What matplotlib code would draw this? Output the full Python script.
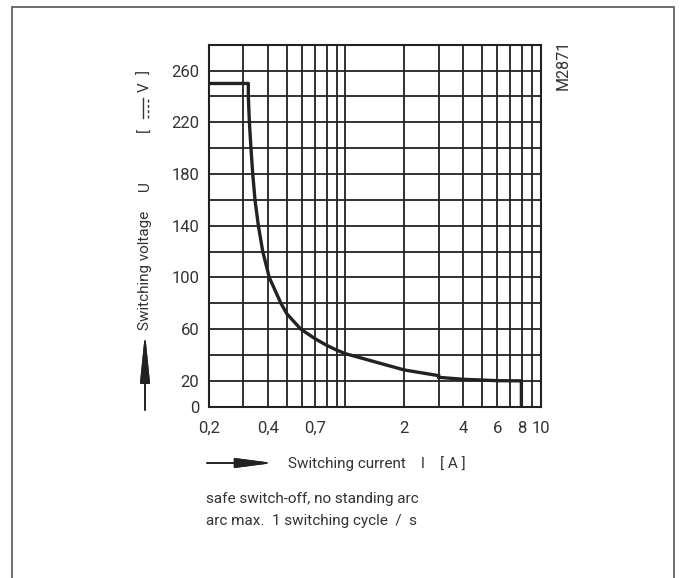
import numpy as np
import matplotlib.pyplot as plt
from matplotlib.patches import Rectangle
from matplotlib.lines import Line2D

plt.rcParams['font.family'] = ['Roboto', 'DejaVu Sans']

# curve (current in A, voltage in V)
cur_a = [0.2, 0.318, 0.318, 0.322, 0.328, 0.335, 0.344, 0.358, 0.377, 0.407, 0.467, 0.5,
         0.59, 0.7, 0.8, 0.9, 1.0, 2.0, 3.0]
volt_a = [250, 250, 240, 220, 200, 180, 160, 140, 120, 100, 80, 72,
          60, 52.5, 47.5, 43.8, 41, 28.4, 24]
cur_b = [3.0, 4.0, 6.0, 7.96, 7.96]
volt_b = [22.7, 21.2, 20.1, 20, 0]

xticks = [0.2, 0.4, 0.7, 2, 4, 6, 8, 10]
xticklabels = ['0,2', '0,4', '0,7', '2', '4', '6', '8', '10']
xgrid = [0.3, 0.4, 0.5, 0.6, 0.7, 0.8, 0.9, 1, 2, 3, 4, 5, 6, 7, 8, 9]
yticks = [0, 20, 60, 100, 140, 180, 220, 260]
ygrid = np.arange(20, 280, 20)

ink = '#222222'
txt = '#333333'
W, H = 683, 578


def fx(px):
    return px / W


def fy(py):
    return 1 - py / H


fig = plt.figure(figsize=(6.83, 5.78), dpi=100)
ax = fig.add_axes([0.306, 0.2964, 0.4857, 0.6263])
ax.set_xscale('log')
ax.set_xlim(0.2, 10)
ax.set_ylim(0, 280)

for x in xgrid:
    ax.axvline(x, color=ink, lw=1.3, zorder=1)
for y in ygrid:
    ax.axhline(y, color=ink, lw=1.3, zorder=1)

ax.plot(cur_a, volt_a, color=ink, lw=2.4, zorder=3, solid_joinstyle='round')
ax.plot(cur_b, volt_b, color=ink, lw=2.4, zorder=3, solid_joinstyle='miter')

ax.set_xticks(xticks)
ax.set_xticklabels(xticklabels)
ax.xaxis.set_minor_locator(plt.NullLocator())
ax.set_yticks(yticks)
ax.tick_params(length=0, labelsize=12, labelcolor=txt)
ax.tick_params(axis='x', pad=10)
ax.tick_params(axis='y', pad=7)
for s in ax.spines.values():
    s.set_color(ink)
    s.set_linewidth(1.5)

# outer frame
fig.add_artist(Rectangle((0.0176, -0.02), 0.9692, 1.0079, transform=fig.transFigure,
                         fill=False, edgecolor='#555555', lw=1.2))

fig.text(fx(563), fy(65), 'M2871', rotation=90, ha='center', va='center',
         fontsize=11.5, color=txt)

# y label, put together piece by piece (no installed font has the DC sign)
lx = 145
fig.text(fx(lx), fy(330), 'Switching voltage', rotation=90, ha='center', va='bottom',
         fontsize=11, color=txt)
fig.text(fx(lx), fy(186), 'U', rotation=90, ha='center', va='center', fontsize=11, color=txt)
fig.text(fx(lx), fy(130), '[', rotation=90, ha='center', va='center', fontsize=11, color=txt)
fig.text(fx(lx), fy(87), 'V', rotation=90, ha='center', va='center', fontsize=11, color=txt)
fig.text(fx(lx), fy(72), ']', rotation=90, ha='center', va='center', fontsize=11, color=txt)
fig.add_artist(Line2D([fx(lx - 2.5), fx(lx - 2.5)], [fy(118), fy(98)], color=txt, lw=1.0))
fig.add_artist(Line2D([fx(lx + 2.5), fx(lx + 2.5)], [fy(118), fy(98)], color=txt, lw=1.0,
                      dashes=(2.2, 1.6)))

fig.text(fx(288), fy(464), 'Switching current    I    [ A ]', ha='left', va='center',
         fontsize=11, color=txt)

arrow_h = dict(arrowstyle='-|>,head_length=2.3,head_width=0.3', color=ink, lw=1.2,
               shrinkA=0, shrinkB=0)
arrow_v = dict(arrowstyle='-|>,head_length=3.0,head_width=0.3', color=ink, lw=1.2,
               shrinkA=0, shrinkB=0)
fig.add_artist(plt.annotate('', xy=(fx(273), fy(463)), xytext=(fx(207), fy(463)),
                            xycoords='figure fraction', arrowprops=arrow_h))
fig.add_artist(plt.annotate('', xy=(fx(145), fy(333)), xytext=(fx(145), fy(410)),
                            xycoords='figure fraction', arrowprops=arrow_v))

fig.text(fx(206), fy(499), 'safe switch-off, no standing arc', ha='left', va='center',
         fontsize=11, color=txt)
fig.text(fx(206), fy(521), 'arc max.  1 switching cycle  /  s', ha='left', va='center',
         fontsize=11, color=txt)

fig.savefig('out.png', dpi=100)
